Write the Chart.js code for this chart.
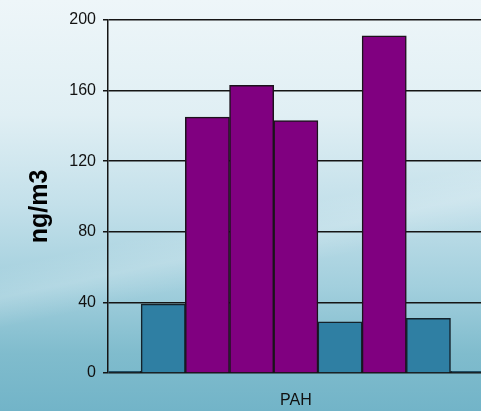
<!DOCTYPE html>
<html>
<head>
<meta charset="utf-8">
<script src="https://cdn.jsdelivr.net/npm/chart.js@4/dist/chart.umd.min.js"></script>
<style>
  html, body {
    margin: 0;
    padding: 0;
    width: 481px;
    height: 411px;
    overflow: hidden;
  }
  body {
    background:
      linear-gradient(168deg, rgba(255,255,255,0) 52%, rgba(255,255,255,0.18) 58%, rgba(255,255,255,0) 64%),
      linear-gradient(180deg, #eef6f9 0%, #e0eff4 28%, #c3e0ea 50%, #a2cfdd 70%, #80bccd 86%, #72b4c8 100%);
  }
  canvas { display: block; }
</style>
</head>
<body>
<canvas id="chart" width="481" height="411"></canvas>
<script>
// one category, nine sampling bars drawn side by side
const categories = ['PAH'];
const barSlots = [0, 1, 2, 3, 4, 5, 6, 7, 8];
const tealValues = [1, 39, null, null, null, 29, null, 31, 1];
const purpleValues = [null, null, 145, 163, 143, null, 191, null, null];
const yTicks = [0, 40, 80, 120, 160, 200];
const yTitle = 'ng/m3';

const axisFont = { family: "'Liberation Sans', Arial, sans-serif", size: 16 };

function toPoints(values) {
    const pts = [];
    values.forEach((v, i) => {
        if (v !== null) pts.push({ x: barSlots[i], y: v });
    });
    return pts;
}

// rotated unit label, sits a bit below the middle of the plot
const unitLabel = {
    id: 'unitLabel',
    afterDraw(chart) {
        const c = chart.ctx;
        const area = chart.chartArea;
        c.save();
        c.translate(40, (area.top + area.bottom) / 2 + 10);
        c.rotate(-Math.PI / 2);
        c.font = "bold 25px 'Liberation Sans', Arial, sans-serif";
        c.fillStyle = '#000';
        c.textAlign = 'center';
        c.textBaseline = 'middle';
        c.fillText(yTitle, 0, 0);
        c.restore();
    }
};

const ctx = document.getElementById('chart').getContext('2d');
const chart = new Chart(ctx, {
    type: 'bar',
    data: {
        datasets: [{
            label: 'teal',
            data: toPoints(tealValues),
            backgroundColor: '#2f7fa3',
            borderColor: '#14222a',
            borderWidth: 1.5,
            grouped: false,
            categoryPercentage: 1,
            barPercentage: 1,
            clip: { left: 0, right: 0, top: false, bottom: false }
        }, {
            label: 'purple',
            data: toPoints(purpleValues),
            backgroundColor: '#800080',
            borderColor: '#1c121c',
            borderWidth: 1.5,
            grouped: false,
            categoryPercentage: 1,
            barPercentage: 1,
            clip: { left: 0, right: 0, top: false, bottom: false }
        }]
    },
    options: {
        responsive: false,
        animation: false,
        devicePixelRatio: 1,
        layout: { padding: { top: 20, right: 0, left: 0, bottom: 0 } },
        plugins: {
            legend: { display: false },
            tooltip: { enabled: false }
        },
        scales: {
            x: {
                type: 'linear',
                offset: false,
                min: -0.25,
                max: 8.19,
                afterBuildTicks: (scale) => {
                    scale.ticks = [{ value: barSlots[Math.floor(barSlots.length / 2)] }];
                },
                afterFit: (scale) => { scale.height = 38; },
                ticks: {
                    callback: () => categories[0],
                    color: '#111',
                    font: axisFont,
                    padding: 10,
                    maxRotation: 0
                },
                grid: { display: false },
                border: { display: false }
            },
            y: {
                min: 0,
                max: 200,
                afterBuildTicks: (scale) => {
                    scale.ticks = yTicks.map(v => ({ value: v }));
                },
                afterFit: (scale) => { scale.width = 108; },
                ticks: {
                    color: '#111',
                    font: axisFont,
                    padding: 7
                },
                grid: {
                    color: '#151515',
                    lineWidth: 1.5,
                    tickLength: 5
                },
                border: { color: '#151515', width: 1.5 }
            }
        }
    },
    plugins: [unitLabel]
});
</script>
</body>
</html>
